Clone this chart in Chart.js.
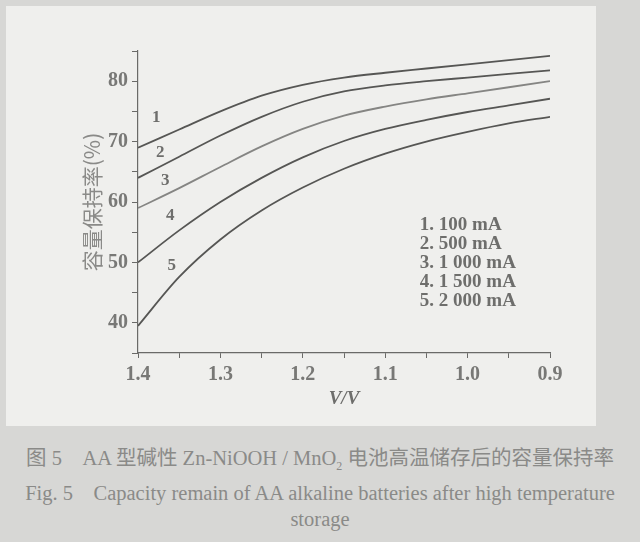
<!DOCTYPE html>
<html>
<head>
<meta charset="utf-8">
<script src="https://cdn.jsdelivr.net/npm/chart.js@4"></script>
<style>
  html, body { margin: 0; padding: 0; }
  body { width: 640px; height: 542px; background: #d7d7d5; position: relative; overflow: hidden; }
  #panel { position: absolute; left: 6px; top: 6px; width: 590px; height: 420px; background: #efefed; }
  #wrap { position: absolute; left: 0; top: 0; width: 640px; height: 430px; }
  .cap { position: absolute; left: 0; width: 640px; text-align: center; color: #8a8a88;
         font-family: "Liberation Serif", "Noto Sans CJK SC", serif; font-size: 20.5px; white-space: nowrap; }
</style>
</head>
<body>
<div id="panel"></div>
<div id="wrap"><canvas id="myChart" width="640" height="430"></canvas></div>
<div class="cap" style="top:441px">图 5　AA 型碱性 Zn-NiOOH / MnO<sub style="font-size:12px">2</sub> 电池高温储存后的容量保持率</div>
<div class="cap" style="top:476px">Fig. 5　Capacity remain of AA alkaline batteries after high temperature</div>
<div class="cap" style="top:508px">storage</div>
<script>
var voltages = [1.4, 1.35, 1.3, 1.25, 1.2, 1.15, 1.1, 1.05, 1.0, 0.95, 0.9];
var curve1 = [69, 72.0, 75.0, 77.6, 79.4, 80.6, 81.4, 82.1, 82.8, 83.5, 84.2];
var curve2 = [64, 67.5, 71.0, 74.1, 76.6, 78.3, 79.3, 80.0, 80.6, 81.2, 81.8];
var curve3 = [59, 62.3, 65.8, 69.2, 72.1, 74.3, 75.8, 77.0, 78.0, 79.0, 80.0];
var curve4 = [50, 55.3, 60.0, 64.0, 67.4, 70.1, 72.1, 73.6, 74.9, 76.0, 77.1];
var curve5 = [39.5, 47.6, 53.8, 58.6, 62.4, 65.5, 68.0, 70.0, 71.6, 73.0, 74.1];
var legendLines = ['1. 100 mA', '2. 500 mA', '3. 1 000 mA', '4. 1 500 mA', '5. 2 000 mA'];
var curveNames = ['1', '2', '3', '4', '5'];

function pts(ys) {
    return voltages.map(function (v, i) { return { x: v, y: ys[i] }; });
}

// where the small curve numbers sit, in data units
var curveTags = [[1.378, 74.0], [1.373, 68.2], [1.367, 63.6], [1.361, 57.8], [1.359, 49.5]];

var textPlugin = {
    id: 'figText',
    afterDraw: function (chart) {
        var ctx = chart.ctx;
        var xs = chart.scales.x, ys = chart.scales.y;
        ctx.save();
        ctx.fillStyle = '#6e6e6c';
        ctx.font = 'bold 17px "Liberation Serif", serif';
        ctx.textAlign = 'center';
        ctx.textBaseline = 'middle';
        curveTags.forEach(function (t, i) {
            ctx.fillText(curveNames[i], xs.getPixelForValue(t[0]), ys.getPixelForValue(t[1]));
        });
        ctx.textAlign = 'left';
        ctx.font = 'bold 19px "Liberation Serif", serif';
        var lx = xs.getPixelForValue(1.058);
        legendLines.forEach(function (s, i) {
            ctx.fillText(s, lx, ys.getPixelForValue(56.2) + i * 19);
        });
        ctx.restore();
    }
};

var lineColor = '#565654';
var ctx = document.getElementById('myChart').getContext('2d');
var myChart = new Chart(ctx, {
    type: 'line',
    data: {
        datasets: [
            { data: pts(curve1), borderColor: lineColor },
            { data: pts(curve2), borderColor: lineColor },
            { data: pts(curve3), borderColor: '#858583' },
            { data: pts(curve4), borderColor: lineColor },
            { data: pts(curve5), borderColor: lineColor }
        ]
    },
    options: {
        responsive: false,
        animation: false,
        layout: { padding: { left: 0, top: 51, right: 90, bottom: 0 } },
        elements: {
            line: { borderWidth: 1.8, cubicInterpolationMode: 'monotone', fill: false },
            point: { radius: 0 }
        },
        scales: {
            x: {
                type: 'linear',
                reverse: true,
                min: 0.9,
                max: 1.4,
                afterFit: function (s) { s.height = 77; },
                grid: { drawOnChartArea: false, color: '#6a6a68', tickLength: 5, tickColor: '#6a6a68' },
                border: { color: '#6a6a68', width: 1.2 },
                ticks: {
                    stepSize: 0.05,
                    padding: 5,
                    color: '#787876',
                    font: { family: '"Liberation Serif", serif', size: 20, weight: 'bold' },
                    callback: function (v) {
                        var t = Math.round(v * 100);
                        return t % 10 === 0 ? (t / 100).toFixed(1) : '';
                    }
                },
                title: {
                    display: true,
                    text: 'V/V',
                    color: '#6e6e6c',
                    padding: { top: 0, bottom: 20 },
                    font: { family: '"Liberation Serif", serif', size: 19, weight: 'bold', style: 'italic' }
                }
            },
            y: {
                min: 35,
                max: 85,
                afterFit: function (s) { s.width = 138; },
                grid: { drawOnChartArea: false, color: '#6a6a68', tickLength: 6, tickColor: '#6a6a68' },
                border: { color: '#6a6a68', width: 1.2 },
                ticks: {
                    stepSize: 5,
                    padding: 4,
                    color: '#787876',
                    font: { family: '"Liberation Serif", serif', size: 20, weight: 'bold' },
                    callback: function (v) { return v % 10 === 0 ? v : ''; }
                },
                title: {
                    display: true,
                    text: '容量保持率(%)',
                    color: '#8a8a88',
                    padding: { top: 79, bottom: 0 },
                    font: { family: '"Noto Sans CJK SC", sans-serif', size: 21 }
                }
            }
        },
        plugins: {
            legend: { display: false },
            tooltip: { enabled: false }
        }
    },
    plugins: [textPlugin]
});
</script>
</body>
</html>
